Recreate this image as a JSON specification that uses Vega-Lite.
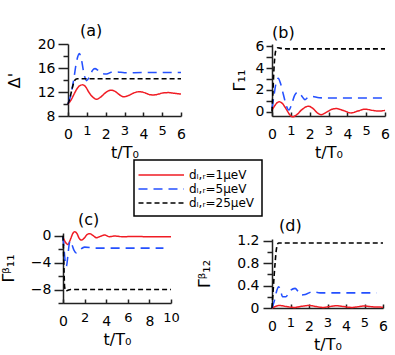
{
  "$schema": "https://vega.github.io/schema/vega-lite/v6.json",
  "autosize": {"type": "none"},
  "padding": {"left": 63, "top": 44, "right": 332, "bottom": 311},
  "background": "white",
  "config": {
    "view": {"stroke": null},
    "font": "DejaVu Sans",
    "axis": {"labelFont": "DejaVu Sans", "labelFontSize": 14, "labelColor": "black", "domainColor": "#222", "domainWidth": 1.5, "tickColor": "#222", "tickWidth": 1.5, "grid": false, "titleFont": "DejaVu Sans", "titleFontSize": 16, "titleFontWeight": "normal", "titleColor": "black", "labelFlush": false, "labelOverlap": false},
    "title": {"font": "DejaVu Sans", "fontSize": 16, "fontWeight": "normal", "color": "black", "frame": "group", "anchor": "start"},
    "legend": {"orient": "none", "legendX": 71, "legendY": 116, "strokeColor": "black", "strokeWidth": 1.5, "padding": 7, "symbolType": "M-1.5,0H5.0", "symbolSize": 196, "symbolStrokeWidth": 1.6, "labelFont": "DejaVu Sans", "labelFontSize": 12, "labelColor": "black", "fillColor": "white", "rowPadding": -0.5, "labelOffset": 32}
  },
  "datasets": {
    "a": [
      {"s":"1","t":0,"v":10.0},{"s":"1","t":0.15,"v":10.6},{"s":"1","t":0.3,"v":11.5},{"s":"1","t":0.45,"v":12.4},{"s":"1","t":0.6,"v":13.0},{"s":"1","t":0.78,"v":13.2},{"s":"1","t":0.95,"v":12.8},{"s":"1","t":1.1,"v":12.0},{"s":"1","t":1.3,"v":11.2},{"s":"1","t":1.52,"v":10.8},{"s":"1","t":1.75,"v":11.2},{"s":"1","t":2.0,"v":11.9},{"s":"1","t":2.27,"v":12.3},{"s":"1","t":2.5,"v":12.1},{"s":"1","t":2.75,"v":11.5},{"s":"1","t":2.97,"v":11.2},{"s":"1","t":3.2,"v":11.4},{"s":"1","t":3.5,"v":11.85},{"s":"1","t":3.79,"v":12.05},{"s":"1","t":4.1,"v":11.85},{"s":"1","t":4.3,"v":11.6},{"s":"1","t":4.53,"v":11.5},{"s":"1","t":4.8,"v":11.65},{"s":"1","t":5.05,"v":11.85},{"s":"1","t":5.33,"v":11.9},{"s":"1","t":5.6,"v":11.8},{"s":"1","t":6.0,"v":11.65},
      {"s":"5","t":0,"v":10.0},{"s":"5","t":0.15,"v":11.5},{"s":"5","t":0.3,"v":14.0},{"s":"5","t":0.45,"v":17.0},{"s":"5","t":0.6,"v":18.4},{"s":"5","t":0.72,"v":17.3},{"s":"5","t":0.85,"v":15.0},{"s":"5","t":0.99,"v":13.9},{"s":"5","t":1.15,"v":14.6},{"s":"5","t":1.3,"v":15.6},{"s":"5","t":1.43,"v":15.9},{"s":"5","t":1.6,"v":15.6},{"s":"5","t":1.8,"v":15.1},{"s":"5","t":2.05,"v":15.0},{"s":"5","t":2.3,"v":15.3},{"s":"5","t":2.6,"v":15.35},{"s":"5","t":3.0,"v":15.2},{"s":"5","t":4.0,"v":15.25},{"s":"5","t":5.0,"v":15.25},{"s":"5","t":6.0,"v":15.25},
      {"s":"25","t":0,"v":10.0},{"s":"25","t":0.1,"v":11.0},{"s":"25","t":0.2,"v":12.3},{"s":"25","t":0.3,"v":13.5},{"s":"25","t":0.4,"v":14.1},{"s":"25","t":0.5,"v":14.2},{"s":"25","t":1.0,"v":14.2},{"s":"25","t":6.0,"v":14.2}
    ],
    "b": [
      {"s":"1","t":0,"v":0.15},{"s":"1","t":0.15,"v":0.55},{"s":"1","t":0.3,"v":0.85},{"s":"1","t":0.4,"v":0.9},{"s":"1","t":0.55,"v":0.75},{"s":"1","t":0.75,"v":0.25},{"s":"1","t":0.95,"v":-0.3},{"s":"1","t":1.1,"v":-0.48},{"s":"1","t":1.3,"v":-0.3},{"s":"1","t":1.6,"v":0.2},{"s":"1","t":1.93,"v":0.5},{"s":"1","t":2.2,"v":0.25},{"s":"1","t":2.4,"v":-0.1},{"s":"1","t":2.6,"v":-0.28},{"s":"1","t":2.9,"v":-0.05},{"s":"1","t":3.15,"v":0.2},{"s":"1","t":3.4,"v":0.28},{"s":"1","t":3.8,"v":0.1},{"s":"1","t":4.2,"v":-0.12},{"s":"1","t":4.55,"v":0.05},{"s":"1","t":4.94,"v":0.22},{"s":"1","t":5.4,"v":0.1},{"s":"1","t":5.7,"v":0.05},{"s":"1","t":6.0,"v":0.12},
      {"s":"5","t":0,"v":0.3},{"s":"5","t":0.1,"v":1.4},{"s":"5","t":0.2,"v":2.5},{"s":"5","t":0.33,"v":3.05},{"s":"5","t":0.45,"v":2.6},{"s":"5","t":0.6,"v":1.6},{"s":"5","t":0.75,"v":0.6},{"s":"5","t":0.9,"v":0.15},{"s":"5","t":1.05,"v":0.7},{"s":"5","t":1.2,"v":1.5},{"s":"5","t":1.38,"v":1.8},{"s":"5","t":1.55,"v":1.5},{"s":"5","t":1.75,"v":1.1},{"s":"5","t":1.9,"v":1.3},{"s":"5","t":2.1,"v":1.4},{"s":"5","t":2.5,"v":1.27},{"s":"5","t":3.0,"v":1.25},{"s":"5","t":6.0,"v":1.25},
      {"s":"25","t":0,"v":0.0},{"s":"25","t":0.05,"v":1.8},{"s":"25","t":0.1,"v":3.8},{"s":"25","t":0.15,"v":5.0},{"s":"25","t":0.2,"v":5.6},{"s":"25","t":0.3,"v":5.85},{"s":"25","t":0.5,"v":5.8},{"s":"25","t":1.0,"v":5.75},{"s":"25","t":6.0,"v":5.75}
    ],
    "c": [
      {"s":"1","t":0,"v":-0.2},{"s":"1","t":0.2,"v":-0.9},{"s":"1","t":0.46,"v":-1.3},{"s":"1","t":0.7,"v":-0.5},{"s":"1","t":0.9,"v":0.3},{"s":"1","t":1.08,"v":0.6},{"s":"1","t":1.3,"v":0.3},{"s":"1","t":1.5,"v":-0.4},{"s":"1","t":1.7,"v":-0.65},{"s":"1","t":2.0,"v":-0.3},{"s":"1","t":2.25,"v":0.2},{"s":"1","t":2.47,"v":0.3},{"s":"1","t":2.8,"v":0.0},{"s":"1","t":3.1,"v":-0.3},{"s":"1","t":3.45,"v":-0.1},{"s":"1","t":3.86,"v":0.1},{"s":"1","t":4.3,"v":-0.15},{"s":"1","t":4.8,"v":-0.05},{"s":"1","t":5.5,"v":-0.15},{"s":"1","t":6.5,"v":-0.12},{"s":"1","t":8.0,"v":-0.15},{"s":"1","t":10.0,"v":-0.15},
      {"s":"5","t":0,"v":-0.2},{"s":"5","t":0.1,"v":-2.0},{"s":"5","t":0.2,"v":-3.8},{"s":"5","t":0.31,"v":-4.55},{"s":"5","t":0.45,"v":-3.0},{"s":"5","t":0.55,"v":-1.5},{"s":"5","t":0.65,"v":-0.8},{"s":"5","t":0.8,"v":-1.2},{"s":"5","t":1.0,"v":-2.1},{"s":"5","t":1.23,"v":-2.55},{"s":"5","t":1.5,"v":-2.2},{"s":"5","t":2.0,"v":-1.7},{"s":"5","t":2.5,"v":-1.75},{"s":"5","t":3.0,"v":-1.85},{"s":"5","t":9.3,"v":-1.85},
      {"s":"25","t":0,"v":0.0},{"s":"25","t":0.05,"v":-2.5},{"s":"25","t":0.1,"v":-5.5},{"s":"25","t":0.15,"v":-7.6},{"s":"25","t":0.25,"v":-8.2},{"s":"25","t":0.4,"v":-8.15},{"s":"25","t":0.7,"v":-8.0},{"s":"25","t":10.0,"v":-8.0}
    ],
    "d": [
      {"s":"1","t":0,"v":0.0},{"s":"1","t":0.2,"v":0.03},{"s":"1","t":0.39,"v":0.045},{"s":"1","t":0.8,"v":0.025},{"s":"1","t":1.2,"v":0.01},{"s":"1","t":1.6,"v":0.03},{"s":"1","t":2.0,"v":0.045},{"s":"1","t":2.4,"v":0.025},{"s":"1","t":2.76,"v":0.01},{"s":"1","t":3.1,"v":0.025},{"s":"1","t":3.5,"v":0.04},{"s":"1","t":3.9,"v":0.025},{"s":"1","t":4.3,"v":0.01},{"s":"1","t":4.6,"v":0.02},{"s":"1","t":4.96,"v":0.035},{"s":"1","t":5.5,"v":0.02},{"s":"1","t":6.0,"v":0.015},
      {"s":"5","t":0,"v":0.0},{"s":"5","t":0.12,"v":0.12},{"s":"5","t":0.25,"v":0.3},{"s":"5","t":0.36,"v":0.38},{"s":"5","t":0.47,"v":0.3},{"s":"5","t":0.57,"v":0.2},{"s":"5","t":0.75,"v":0.2},{"s":"5","t":0.95,"v":0.3},{"s":"5","t":1.25,"v":0.35},{"s":"5","t":1.4,"v":0.3},{"s":"5","t":1.56,"v":0.23},{"s":"5","t":1.8,"v":0.24},{"s":"5","t":2.18,"v":0.29},{"s":"5","t":2.6,"v":0.27},{"s":"5","t":3.0,"v":0.27},{"s":"5","t":5.65,"v":0.27},
      {"s":"25","t":0,"v":0.0},{"s":"25","t":0.06,"v":0.3},{"s":"25","t":0.12,"v":0.6},{"s":"25","t":0.18,"v":0.85},{"s":"25","t":0.22,"v":1.0},{"s":"25","t":0.28,"v":1.12},{"s":"25","t":0.35,"v":1.16},{"s":"25","t":1.0,"v":1.16},{"s":"25","t":6.0,"v":1.16}
    ]
  },
  "columns": 2,
  "align": "none",
  "bounds": "flush",
  "spacing": {"row": 117, "column": 73},
  "concat": [
    {
      "width": 118, "height": 72,
      "title": {"text": "(a)", "dx": 17, "offset": -2},
      "data": {"name": "a"},
      "mark": {"type": "line", "interpolate": "monotone"},
      "encoding": {
        "x": {"field": "t", "type": "quantitative", "scale": {"domain": [0, 6], "range": [5, 118], "nice": false, "zero": false},
              "axis": {"values": [0,1,2,3,4,5,6], "title": "t/T₀", "tickSize": -4, "labelPadding": 12, "labelLineHeight": 20,
                       "labelBaseline": {"condition": {"test": "datum.value % 2 == 1", "value": "top"}, "value": "line-top"},
                       "labelFontSize": {"condition": {"test": "datum.value % 2 == 1", "value": 13}, "value": 14}, "titlePadding": 3}},
        "y": {"field": "v", "type": "quantitative", "scale": {"domain": [8, 20], "nice": false, "zero": false},
              "axis": {"values": [8,10,12,14,16,18,20], "labelExpr": "datum.value % 4 == 0 ? datum.label : ''",
                       "tickSize": {"condition": {"test": "datum.value % 4 == 0", "value": 10}, "value": 5},
                       "labelPadding": 3, "offset": -5, "title": "Δ'", "titlePadding": 15}},
        "color": {"field": "s", "type": "nominal", "scale": {"domain": ["1","5","25"], "range": ["#f01c24", "#2450ff", "#000000"]}, "legend": {"title": null, "labelExpr": "'dₗ,ᵣ=' + datum.label + 'μeV'"}},
        "strokeDash": {"field": "s", "type": "nominal", "scale": {"domain": ["1","5","25"], "range": [[1,0],[9,6],[5,3]]}, "legend": {"title": null, "labelExpr": "'dₗ,ᵣ=' + datum.label + 'μeV'"}},
        "strokeWidth": {"field": "s", "type": "ordinal", "scale": {"domain": ["1","5","25"], "range": [1.5, 1.6, 2.2]}, "legend": null}
      }
    },
    {
      "width": 113, "height": 72,
      "title": {"text": "(b)", "dx": 0, "offset": -2},
      "data": {"name": "b"},
      "mark": {"type": "line", "interpolate": "monotone"},
      "encoding": {
        "x": {"field": "t", "type": "quantitative", "scale": {"domain": [0, 6], "nice": false, "zero": false},
              "axis": {"values": [0,1,2,3,4,5,6], "title": "t/T₀", "tickSize": -4, "labelPadding": 12, "labelLineHeight": 20,
                       "labelBaseline": {"condition": {"test": "datum.value % 2 == 1", "value": "top"}, "value": "line-top"},
                       "labelFontSize": {"condition": {"test": "datum.value % 2 == 1", "value": 13}, "value": 14}, "titlePadding": 3}},
        "y": {"field": "v", "type": "quantitative", "scale": {"domain": [-0.4, 6.2], "nice": false, "zero": false},
              "axis": {"values": [0,1,2,3,4,5,6], "labelExpr": "datum.value % 2 == 0 ? datum.label : ''",
                       "tickSize": 6, "labelPadding": 2, "title": "Γ₁₁", "titlePadding": 8}},
        "color": {"field": "s", "type": "nominal", "scale": {"domain": ["1","5","25"], "range": ["#f01c24", "#2450ff", "#000000"]}, "legend": {"title": null, "labelExpr": "'dₗ,ᵣ=' + datum.label + 'μeV'"}},
        "strokeDash": {"field": "s", "type": "nominal", "scale": {"domain": ["1","5","25"], "range": [[1,0],[9,6],[5,3]]}, "legend": {"title": null, "labelExpr": "'dₗ,ᵣ=' + datum.label + 'μeV'"}},
        "strokeWidth": {"field": "s", "type": "ordinal", "scale": {"domain": ["1","5","25"], "range": [1.5, 1.6, 2.2]}, "legend": null}
      }
    },
    {
      "width": 136, "height": 70,
      "title": {"text": "(c)", "dx": 15, "offset": 1},
      "data": {"name": "c"},
      "mark": {"type": "line", "interpolate": "monotone"},
      "encoding": {
        "x": {"field": "t", "type": "quantitative", "scale": {"domain": [0, 10], "range": [0, 108], "nice": false, "zero": false},
              "axis": {"values": [0,2,4,6,8,10], "title": "t/T₀", "tickSize": -4, "labelPadding": 12, "labelLineHeight": 20,
                       "labelBaseline": {"condition": {"test": "datum.value % 4 == 2", "value": "top"}, "value": "line-top"},
                       "labelFontSize": {"condition": {"test": "datum.value % 4 == 2", "value": 13}, "value": 14}, "titlePadding": 3}},
        "y": {"field": "v", "type": "quantitative", "scale": {"domain": [-10, 0.4], "nice": false, "zero": false},
              "axis": {"values": [-10,-8,-6,-4,-2,0], "labelExpr": "datum.value % 4 == 0 ? datum.label : ''",
                       "tickSize": {"condition": {"test": "datum.value % 4 == 0", "value": 9}, "value": 5},
                       "labelPadding": 3, "title": "Γᵝ₁₁", "titlePadding": 14}},
        "color": {"field": "s", "type": "nominal", "scale": {"domain": ["1","5","25"], "range": ["#f01c24", "#2450ff", "#000000"]}, "legend": {"title": null, "labelExpr": "'dₗ,ᵣ=' + datum.label + 'μeV'"}},
        "strokeDash": {"field": "s", "type": "nominal", "scale": {"domain": ["1","5","25"], "range": [[1,0],[9,6],[5,3]]}, "legend": {"title": null, "labelExpr": "'dₗ,ᵣ=' + datum.label + 'μeV'"}},
        "strokeWidth": {"field": "s", "type": "ordinal", "scale": {"domain": ["1","5","25"], "range": [1.5, 1.6, 2.2]}, "legend": null}
      }
    },
    {
      "width": 111, "height": 75,
      "title": {"text": "(d)", "dx": 7, "offset": -1},
      "data": {"name": "d"},
      "mark": {"type": "line", "interpolate": "monotone"},
      "encoding": {
        "x": {"field": "t", "type": "quantitative", "scale": {"domain": [0, 6], "nice": false, "zero": false},
              "axis": {"values": [0,1,2,3,4,5,6], "title": "t/T₀", "tickSize": -4, "labelPadding": 12, "labelLineHeight": 20,
                       "labelBaseline": {"condition": {"test": "datum.value % 2 == 1", "value": "top"}, "value": "line-top"},
                       "labelFontSize": {"condition": {"test": "datum.value % 2 == 1", "value": 13}, "value": 14}, "titlePadding": 3}},
        "y": {"field": "v", "type": "quantitative", "scale": {"domain": [0, 1.23], "range": [75, 6], "nice": false, "zero": false},
              "axis": {"values": [0,0.2,0.4,0.6,0.8,1.0,1.2], "format": "~g", "labelExpr": "round(datum.value * 10) % 4 == 0 ? datum.label : ''",
                       "tickSize": {"condition": {"test": "round(datum.value * 10) % 4 == 0", "value": 9}, "value": 5},
                       "labelPadding": 4, "title": "Γᵝ₁₂", "titlePadding": 24}},
        "color": {"field": "s", "type": "nominal", "scale": {"domain": ["1","5","25"], "range": ["#f01c24", "#2450ff", "#000000"]}, "legend": {"title": null, "labelExpr": "'dₗ,ᵣ=' + datum.label + 'μeV'"}},
        "strokeDash": {"field": "s", "type": "nominal", "scale": {"domain": ["1","5","25"], "range": [[1,0],[9,6],[5,3]]}, "legend": {"title": null, "labelExpr": "'dₗ,ᵣ=' + datum.label + 'μeV'"}},
        "strokeWidth": {"field": "s", "type": "ordinal", "scale": {"domain": ["1","5","25"], "range": [1.5, 1.6, 2.2]}, "legend": null}
      }
    }
  ]
}
